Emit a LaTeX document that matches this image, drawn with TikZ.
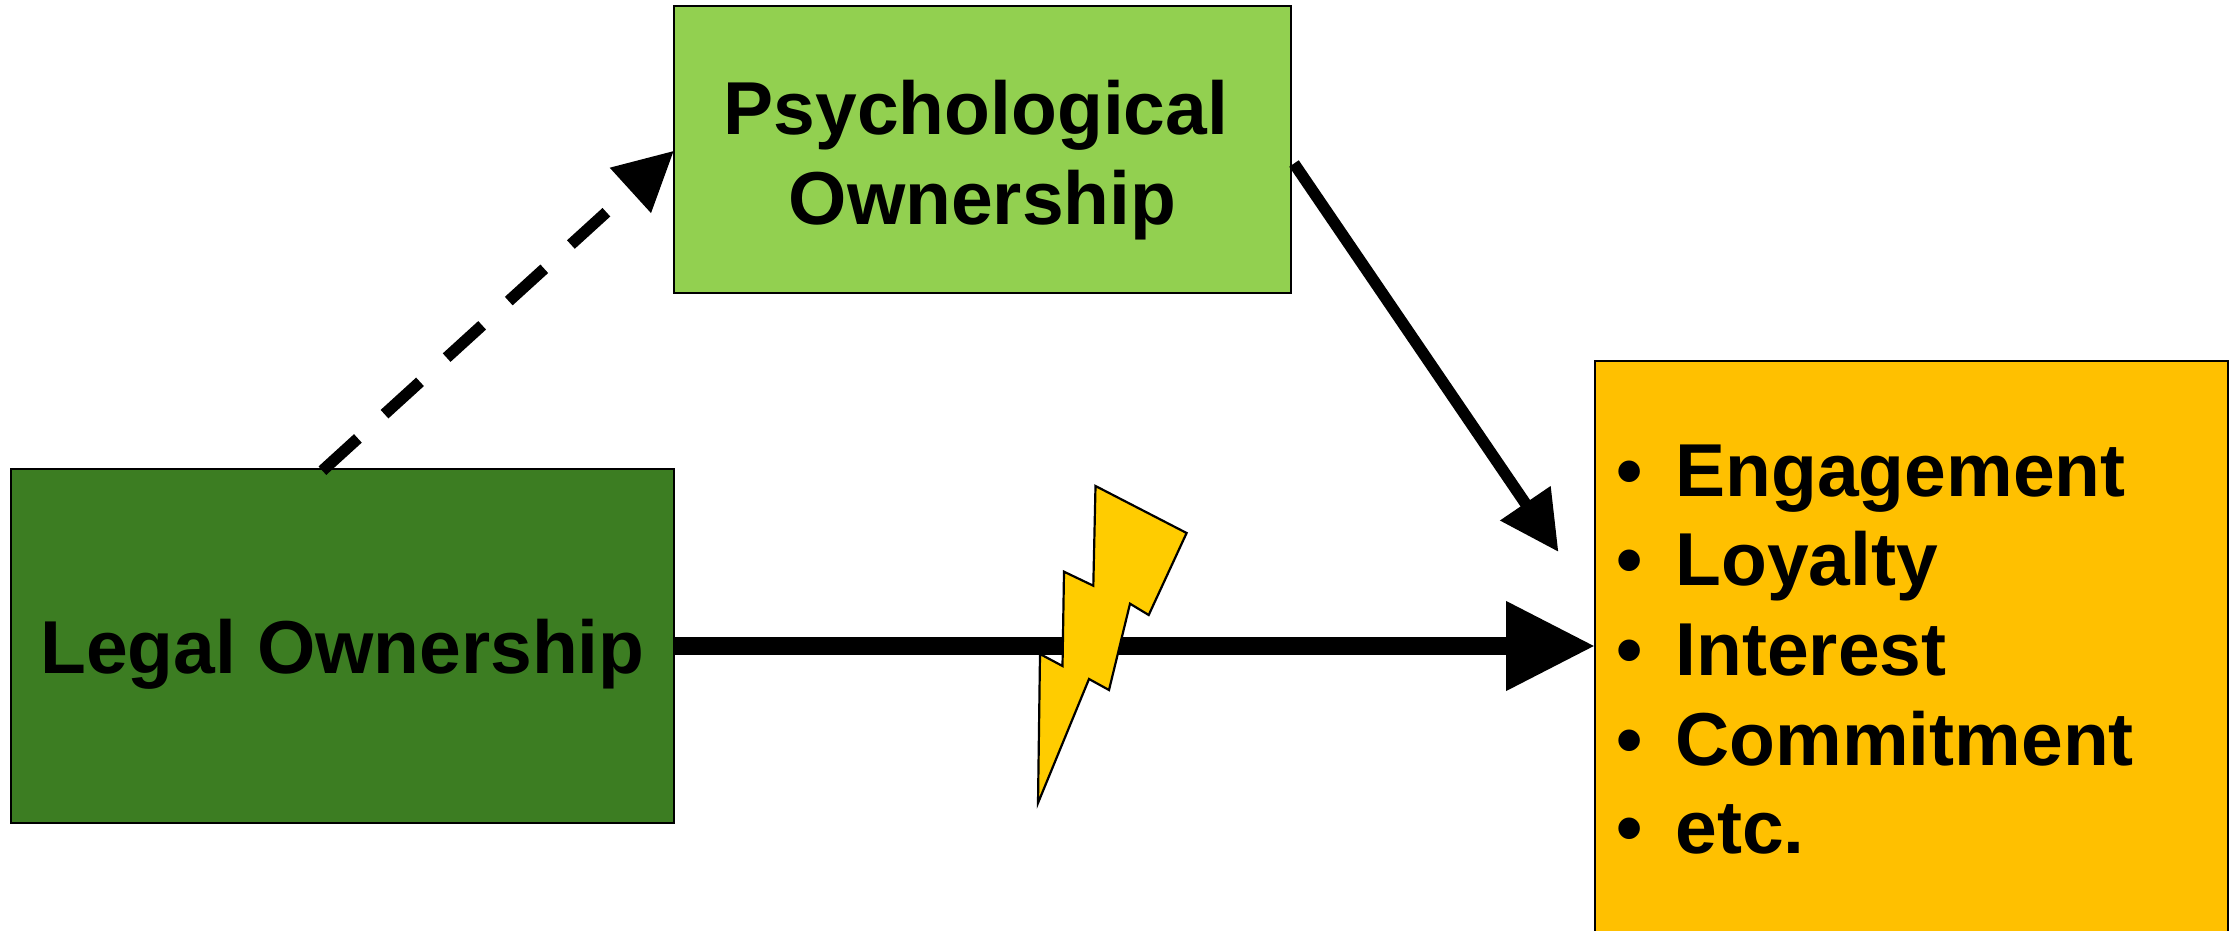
\documentclass[tikz,border=0pt]{standalone}
\usepackage{fontspec}
\setmainfont{Liberation Sans}
\usetikzlibrary{arrows.meta}
\definecolor{lightgreen}{HTML}{92D050}
\definecolor{darkgreen}{HTML}{3C7D22}
\definecolor{outorange}{HTML}{FFC000}
\definecolor{boltyellow}{HTML}{FFCC00}
\newcommand{\bulletitem}[1]{\makebox[59.6pt][l]{•}#1}
\tikzset{
  x=1pt,y=-1pt,
  bigtext/.style={font=\fontsize{75}{89.6}\selectfont\bfseries,text=black},
  box/.style={draw=black,line width=2.2pt,inner sep=0pt,outer sep=0pt,bigtext,align=center},
  listitem/.style={bigtext,anchor=base west,inner sep=0pt,outer sep=0pt},
  conn/.style={draw=black,line width=11.5pt,-{Triangle[length=59pt,width=58pt]}},
  mainconn/.style={draw=black,line width=17.6pt,-{Triangle[length=89pt,width=85pt]}},
  bolt/.style={draw=black,line width=2.2pt,fill=boltyellow,line join=miter}
}
\begin{document}
\begin{tikzpicture}
\useasboundingbox (0,0) rectangle (2229,931);
\node[box,fill=lightgreen,minimum width=617pt,minimum height=287pt] (psych) at (982.5,149.5) {\rule{0pt}{75pt}Psychological\rule{13pt}{0pt}\\Ownership};
\node[box,fill=darkgreen,minimum width=663pt,minimum height=354pt] (legal) at (342.5,646) {\rule{0pt}{70pt}Legal Ownership};
\node[box,fill=outorange,minimum width=633pt,minimum height=640pt] (outcome) at (1911.5,681) {};
\node[listitem] (item1) at (1616,496) {\bulletitem{Engagement}};
\node[listitem] (item2) at (1616,585.6) {\bulletitem{Loyalty}};
\node[listitem] (item3) at (1616,675) {\bulletitem{Interest}};
\node[listitem] (item4) at (1616,765) {\bulletitem{Commitment}};
\node[listitem] (item5) at (1616,853.6) {\bulletitem{etc.}};
\coordinate (dashstart) at (322.4,470.7);
\coordinate (dashend) at (psych.west |- 0,150.7);
\coordinate (solidstart) at (1294,163.5);
\coordinate (solidend) at (1558.5,552);
\draw[conn,dash pattern=on 48pt off 36pt] (dashstart) -- (dashend);
\draw[conn] (solidstart) -- (solidend);
\draw[mainconn] (legal.east) -- (legal.east -| outcome.west);
\draw[bolt] (1095.5,486) -- (1186.6,533) -- (1148.7,615) -- (1130,603.7) -- (1109,690) -- (1089,679) -- (1038,803) -- (1040,654) -- (1062.5,666) -- (1064,571.7) -- (1093.3,585.7) -- cycle;
\end{tikzpicture}
\end{document}
